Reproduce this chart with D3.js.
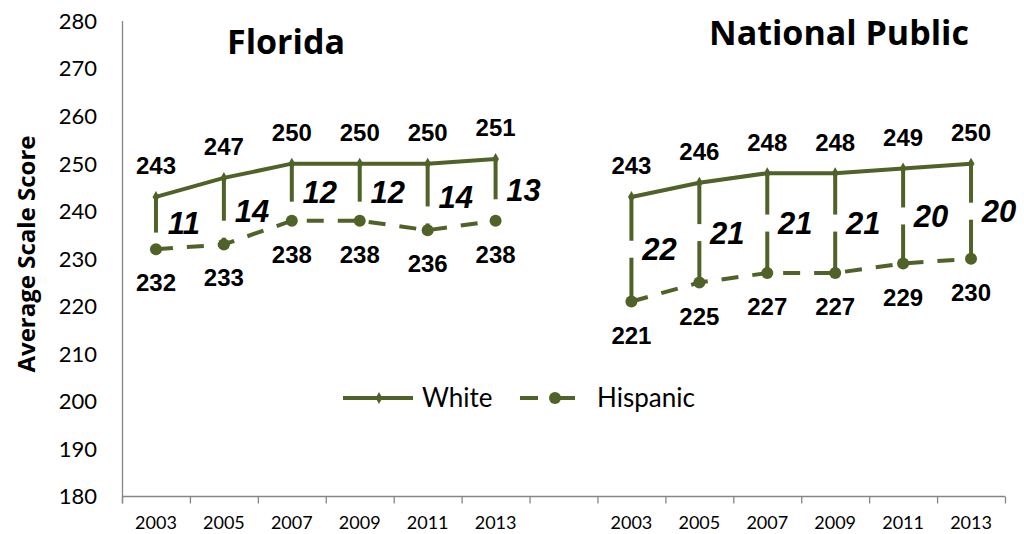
<!DOCTYPE html>
<html>
<head>
<meta charset="utf-8">
<script src="https://cdn.jsdelivr.net/npm/d3@7"></script>
<style>
  html, body { margin: 0; padding: 0; background: #fff; }
  svg { display: block; }
</style>
</head>
<body>
<script>
// Grade 8 average scale scores, White vs Hispanic students
const years = ["2003", "2005", "2007", "2009", "2011", "2013"];
const panelNames = ["Florida", "National Public"];
const floridaWhite = [243, 247, 250, 250, 250, 251];
const floridaHispanic = [232, 233, 238, 238, 236, 238];
const floridaGap = [11, 14, 12, 12, 14, 13];
const nationalWhite = [243, 246, 248, 248, 249, 250];
const nationalHispanic = [221, 225, 227, 227, 229, 230];
const nationalGap = [22, 21, 21, 21, 20, 20];
const yTicks = [180, 190, 200, 210, 220, 230, 240, 250, 260, 270, 280];
const seriesNames = ["White", "Hispanic"];

const W = 1024, H = 534;
const green = "#4f6228";
const axisGrey = "#868686";

const panels = [
  { name: panelNames[0], white: floridaWhite, hisp: floridaHispanic, gap: floridaGap, gapShift: 18, titleX: 286, titleY: 54 },
  { name: panelNames[1], white: nationalWhite, hisp: nationalHispanic, gap: nationalGap, gapShift: 0, titleX: 839, titleY: 45 }
];

// one band per year in each panel, with an empty band between the panels
const keys = [];
panels.forEach((p, pi) => {
  if (pi > 0) keys.push("spacer");
  years.forEach(y => keys.push(p.name + "|" + y));
});

const x = d3.scaleBand().domain(keys).range([122, 1005]).paddingInner(0).paddingOuter(0);
const y = d3.scaleLinear().domain([180, 280]).range([496.5, 21]);
const cx = k => x(k) + x.bandwidth() / 2;

const svg = d3.select("body").append("svg").attr("width", W).attr("height", H);

// y axis: line and labels, no tick marks
svg.append("line")
  .attr("x1", 122.5).attr("x2", 122.5).attr("y1", y(280)).attr("y2", y(180) + 7)
  .attr("stroke", axisGrey).attr("stroke-width", 1.3);
svg.append("g").selectAll("text").data(yTicks).join("text")
  .attr("x", 97).attr("y", d => y(d)).attr("dy", "0.36em")
  .attr("text-anchor", "end")
  .attr("font-family", "Lato, 'Open Sans', sans-serif").attr("font-size", 22)
  .attr("fill", "#000").text(d => d);

// x axis: baseline, tick marks between categories, year labels
svg.append("line")
  .attr("x1", 122).attr("x2", 1005).attr("y1", y(180)).attr("y2", y(180))
  .attr("stroke", axisGrey).attr("stroke-width", 1.3);
const boundaries = keys.map(k => x(k)).concat([x.range()[1]]);
svg.append("g").selectAll("line").data(boundaries).join("line")
  .attr("x1", d => d + 0.5).attr("x2", d => d + 0.5)
  .attr("y1", y(180)).attr("y2", y(180) + 7)
  .attr("stroke", axisGrey).attr("stroke-width", 1.3);
svg.append("g").selectAll("text").data(keys.filter(k => k !== "spacer")).join("text")
  .attr("x", k => cx(k)).attr("y", 529)
  .attr("text-anchor", "middle")
  .attr("font-family", "Lato, 'Open Sans', sans-serif").attr("font-size", 18)
  .attr("fill", "#000").text(k => k.split("|")[1]);

// y axis title
svg.append("text")
  .attr("transform", "translate(35,254) rotate(-90)")
  .attr("text-anchor", "middle")
  .attr("font-family", "'Open Sans', sans-serif").attr("font-weight", "bold").attr("font-size", 24)
  .attr("fill", "#000").text("Average Scale Score");

const lineGen = d3.line().x(d => d.x).y(d => d.y);

panels.forEach(p => {
  const pts = years.map((yr, i) => {
    const k = p.name + "|" + yr;
    return { x: cx(k), yw: y(p.white[i]), yh: y(p.hisp[i]), w: p.white[i], h: p.hisp[i], g: p.gap[i] };
  });
  const g = svg.append("g");

  // vertical connectors between the two series, broken where the gap label sits
  pts.forEach(d => {
    const mid = (d.yw + d.yh) / 2 + p.gapShift;
    const top = Math.max(d.yw, mid - 8.5);
    const bot = Math.min(d.yh, mid + 8.5);
    g.append("line").attr("x1", d.x).attr("x2", d.x).attr("y1", d.yw).attr("y2", top)
      .attr("stroke", green).attr("stroke-width", 4);
    if (bot < d.yh) {
      g.append("line").attr("x1", d.x).attr("x2", d.x).attr("y1", bot).attr("y2", d.yh)
        .attr("stroke", green).attr("stroke-width", 4);
    }
  });

  // Hispanic: dashed line with circle markers
  g.append("path").attr("d", lineGen(pts.map(d => ({ x: d.x, y: d.yh }))))
    .attr("fill", "none").attr("stroke", green).attr("stroke-width", 4)
    .attr("stroke-dasharray", "17 14");
  g.selectAll("circle.h").data(pts).join("circle").attr("class", "h")
    .attr("cx", d => d.x).attr("cy", d => d.yh).attr("r", 6).attr("fill", green);

  // White: solid line with small diamond markers
  g.append("path").attr("d", lineGen(pts.map(d => ({ x: d.x, y: d.yw }))))
    .attr("fill", "none").attr("stroke", green).attr("stroke-width", 4);
  g.selectAll("path.w").data(pts).join("path").attr("class", "w")
    .attr("d", d3.symbol(d3.symbolDiamond, 40))
    .attr("transform", d => `translate(${d.x},${d.yw})`).attr("fill", green);

  // value labels
  const lab = sel => sel.attr("text-anchor", "middle")
    .attr("font-family", "'Liberation Sans', Arial, sans-serif").attr("font-weight", "bold")
    .attr("font-size", 24).attr("fill", "#000");
  g.selectAll("text.wl").data(pts).join("text").attr("class", "wl")
    .attr("x", d => d.x).attr("y", d => d.yw - 22.5).call(lab).text(d => d.w);
  g.selectAll("text.hl").data(pts).join("text").attr("class", "hl")
    .attr("x", d => d.x).attr("y", d => d.yh + 42).call(lab).text(d => d.h);

  // gap labels
  g.selectAll("text.gl").data(pts).join("text").attr("class", "gl")
    .attr("x", d => d.x + 28).attr("y", d => (d.yw + d.yh) / 2).attr("dy", "0.36em")
    .attr("text-anchor", "middle")
    .attr("font-family", "'Liberation Sans', Arial, sans-serif").attr("font-weight", "bold")
    .attr("font-style", "italic").attr("font-size", 31).attr("fill", "#000")
    .text(d => d.g);

  // panel title
  svg.append("text").attr("x", p.titleX).attr("y", p.titleY).attr("text-anchor", "middle")
    .attr("font-family", "'Open Sans', sans-serif").attr("font-weight", "bold").attr("font-size", 34)
    .attr("fill", "#000").text(p.name);
});

// legend
const leg = svg.append("g");
const ly = 398;
leg.append("line").attr("x1", 343).attr("x2", 413).attr("y1", ly).attr("y2", ly)
  .attr("stroke", green).attr("stroke-width", 4);
leg.append("path").attr("d", d3.symbol(d3.symbolDiamond, 40))
  .attr("transform", `translate(379,${ly})`).attr("fill", green);
leg.append("text").attr("x", 422).attr("y", ly).attr("dy", "0.36em")
  .attr("font-family", "Lato, 'Open Sans', sans-serif").attr("font-size", 26).attr("fill", "#000")
  .text(seriesNames[0]);
leg.append("line").attr("x1", 520).attr("x2", 575).attr("y1", ly).attr("y2", ly)
  .attr("stroke", green).attr("stroke-width", 4).attr("stroke-dasharray", "18 16 21");
leg.append("circle").attr("cx", 555).attr("cy", ly).attr("r", 6).attr("fill", green);
leg.append("text").attr("x", 597).attr("y", ly).attr("dy", "0.36em")
  .attr("font-family", "Lato, 'Open Sans', sans-serif").attr("font-size", 26).attr("fill", "#000")
  .text(seriesNames[1]);
</script>
</body>
</html>
